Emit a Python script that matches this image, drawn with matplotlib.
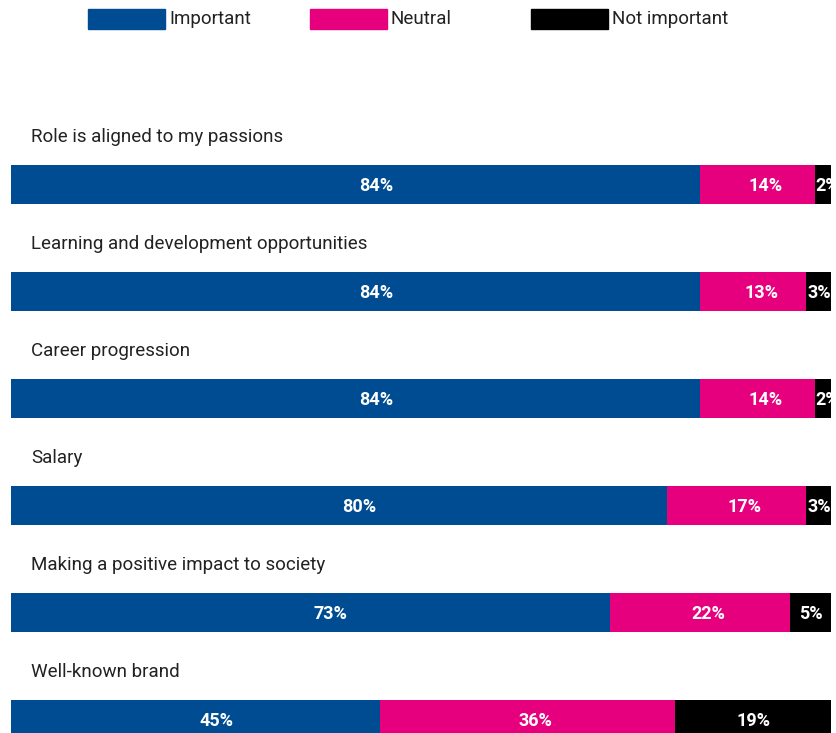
import matplotlib.pyplot as plt
from matplotlib.patches import Rectangle

# data
categories = ['Role is aligned to my passions',
              'Learning and development opportunities',
              'Career progression',
              'Salary',
              'Making a positive impact to society',
              'Well-known brand']
important = [84, 84, 84, 80, 73, 45]
neutral = [14, 13, 14, 17, 22, 36]
not_important = [2, 3, 2, 3, 5, 19]

series_names = ['Important', 'Neutral', 'Not important']
colors = ['#004C93', '#E6007E', '#000000']

plt.rcParams['font.family'] = ['Roboto', 'DejaVu Sans']

W, H = 836, 733
fig = plt.figure(figsize=(W / 100, H / 100), dpi=100)

# axes from x=11px to right edge, full height
ax = fig.add_axes([11 / W, 0, 1 - 11 / W, 1])
px_per_unit = 8.2
row_px = 107
ax.set_xlim(0, (W - 11) / px_per_unit)
y_top = -184.5 / row_px
ax.set_ylim(y_top + H / row_px, y_top)
ax.axis('off')

bar_h = 39 / row_px
ypos = list(range(len(categories)))
lefts = [0] * len(categories)
label_shift = [2.5, 1, 0]  # nudge labels a little to the right like the original
for k, vals in enumerate([important, neutral, not_important]):
    ax.barh(ypos, vals, left=lefts, height=bar_h, color=colors[k], linewidth=0)
    for i, v in enumerate(vals):
        if v <= 3:
            ax.text(lefts[i] + 0.1, i + 0.01, f'{v}%', ha='left', va='center',
                    color='white', fontsize=13, fontweight='bold', clip_on=True)
        else:
            ax.text(lefts[i] + v / 2 + label_shift[k], i + 0.01, f'{v}%', ha='center',
                    va='center', color='white', fontsize=13, fontweight='bold')
    lefts = [l + v for l, v in zip(lefts, vals)]

# category labels above each bar
for i, cat in enumerate(categories):
    ax.text(20 / px_per_unit, i - bar_h / 2 - 23 / row_px, cat, ha='left', va='baseline',
            fontsize=13.5, color='#222222')

# legend drawn manually at the top
leg_x = [88, 310, 531]
for name, c, x in zip(series_names, colors, leg_x):
    fig.patches.append(Rectangle((x / W, 1 - 29 / H), 77 / W, 20 / H,
                                 transform=fig.transFigure, color=c))
    fig.text((x + 81) / W, 1 - 19 / H, name, ha='left', va='center',
             fontsize=13.5, color='#222222')

fig.savefig('out.png', dpi=100)
